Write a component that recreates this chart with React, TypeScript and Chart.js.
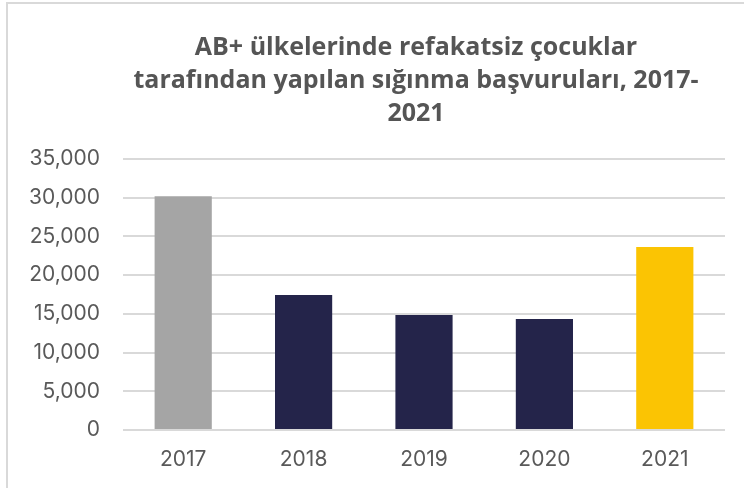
import React, { useEffect, useRef } from "react";
import { Chart, registerables } from "chart.js";

Chart.register(...registerables);

const titleLines = [
  "AB+ ülkelerinde refakatsiz çocuklar",
  "tarafından yapılan sığınma başvuruları, 2017-",
  "2021",
];
const years = ["2017", "2018", "2019", "2020", "2021"];
const applications = [30200, 17430, 14850, 14340, 23640];
const barColors = ["#A5A5A5", "#24244A", "#24244A", "#24244A", "#FBC403"];
const yMax = 35000;
const yStep = 5000;

const titleShift = {
  id: "titleShift",
  afterLayout(chart: any) {
    const t = chart.titleBlock;
    if (t) {
      t.left = 107;
      t.right = chart.chartArea.right;
      t.width = t.right - t.left;
    }
  },
};

export default function App() {
  const ref = useRef<HTMLCanvasElement | null>(null);
  useEffect(() => {
    document.body.style.overflow = "hidden";
    const ctx = ref.current!.getContext("2d")!;
    const chart = new Chart(ctx, {
      type: "bar",
      data: {
        labels: years,
        datasets: [
          {
            data: applications,
            backgroundColor: barColors,
            categoryPercentage: 1,
            barPercentage: 0.475,
          },
        ],
      },
      plugins: [titleShift],
      options: {
        animation: false,
        responsive: false,
        maintainAspectRatio: false,
        layout: { padding: { left: 0, right: 19, top: 0, bottom: 0 } },
        plugins: {
          legend: { display: false },
          tooltip: { enabled: false },
          title: {
            display: true,
            text: titleLines,
            color: "#555555",
            font: { family: "Open Sans", size: 25, weight: "bold", lineHeight: 1.32 },
            padding: { top: 31, bottom: 29 },
          },
        },
        scales: {
          x: {
            grid: { display: false, drawTicks: false },
            border: { display: false },
            ticks: {
              color: "#595959",
              font: { family: "Inter", size: 21 },
              padding: 17,
            },
            afterFit: (s: any) => {
              s.height = 58;
            },
          },
          y: {
            min: 0,
            max: yMax,
            grid: { color: "#D9D9D9", lineWidth: 2, drawTicks: false },
            border: { display: false },
            ticks: {
              stepSize: yStep,
              color: "#595959",
              font: { family: "Inter", size: 21 },
              padding: 23,
              callback: (v: any) => Number(v).toLocaleString("en-US"),
            },
            afterFit: (s: any) => {
              s.width = 123;
            },
          },
        },
      },
    });
    return () => chart.destroy();
  }, []);
  return (
    <div style={{ position: "fixed", left: 0, top: 0, width: 744, height: 488, overflow: "hidden", background: "#fff" }}>
      <canvas ref={ref} width={744} height={488} style={{ position: "absolute", left: 0, top: 0, width: 744, height: 488 }} />
      <div
        style={{
          position: "absolute",
          left: 6,
          top: 2,
          width: 760,
          height: 500,
          borderLeft: "2px solid #D9D9D9",
          borderTop: "2px solid #D9D9D9",
          pointerEvents: "none",
        }}
      />
    </div>
  );
}
